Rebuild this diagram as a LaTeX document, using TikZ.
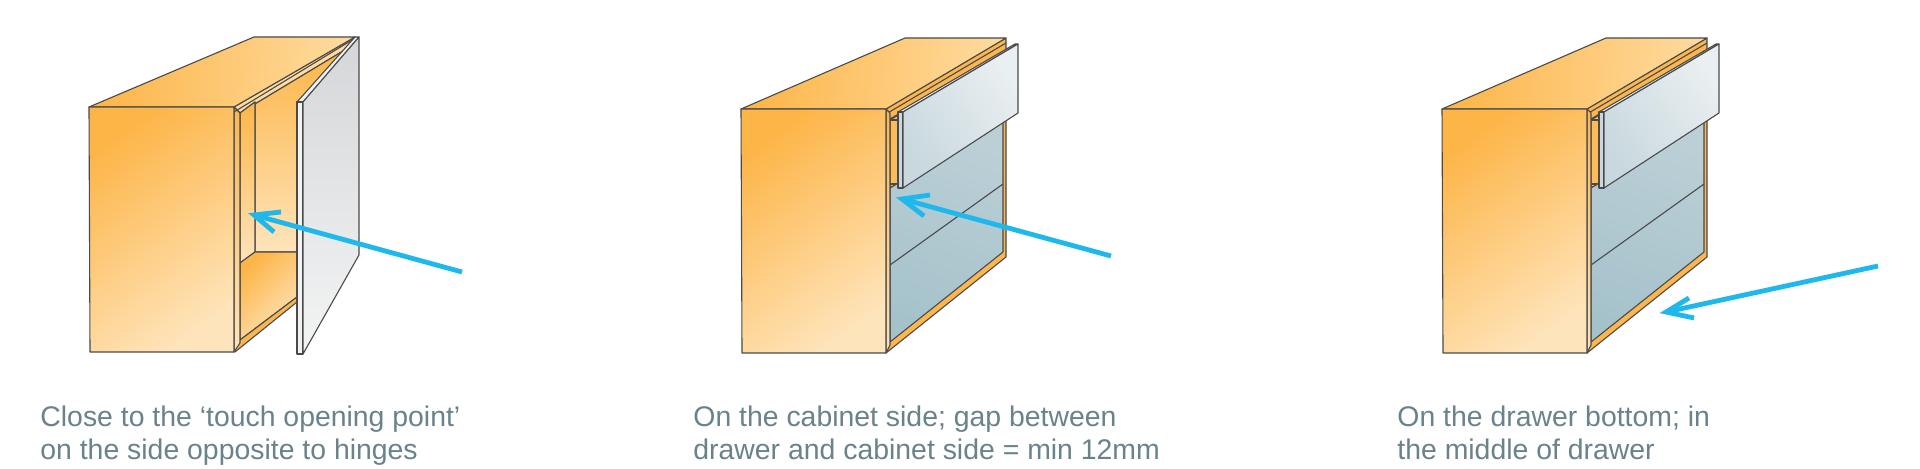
\documentclass[tikz,border=0pt]{standalone}
\usepackage{fontspec}
\setmainfont{Liberation Sans}
\definecolor{edge}{HTML}{4A4A4A}
\definecolor{orA}{HTML}{FDB548}
\definecolor{orB}{HTML}{FEE4BA}
\definecolor{orC}{HTML}{FEDB9F}
\definecolor{strip}{HTML}{FBB650}
\definecolor{grA}{HTML}{D5D6D9}
\definecolor{grB}{HTML}{F3F4F4}
\definecolor{dfA}{HTML}{EAEFF1}
\definecolor{dfB}{HTML}{C8D8DE}
\definecolor{blA}{HTML}{BCCFD6}
\definecolor{blB}{HTML}{A5C2CB}
\definecolor{pointer}{HTML}{1FB8EC}
\definecolor{capt}{HTML}{6A828B}
\tikzset{
  ln/.style={draw=edge,line width=0.55pt,line join=round},
  frontface/.style={ln,top color=orA,bottom color=orB,shading angle=36},
  topface/.style={ln,top color=orA,bottom color=orC,shading angle=85},
  backwall/.style={ln,top color=orA,bottom color=orB},
  floorface/.style={ln,top color=orA,bottom color=orB,shading angle=45},
  stripface/.style={ln,fill=strip},
  pale/.style={ln,fill=orC},
  lightstrip/.style={ln,top color=strip,bottom color=orB},
  doorface/.style={ln,top color=grA,bottom color=grB},
  doorthin/.style={ln,fill=grB!92!grA},
  drawerface/.style={ln,top color=dfB,bottom color=dfA,shading angle=125},
  panelface/.style={ln,top color=blB,bottom color=blA,shading angle=160},
  pointerline/.style={draw=pointer,line width=2.4pt,line cap=butt,line join=miter},
  caption/.style={anchor=north west,inner sep=0pt,align=left,text=capt,font=\fontsize{14.2}{16.5}\selectfont}
}
\newcommand{\drawercab}{%
  % carcass edge seen through the opening
  \filldraw[stripface] (886,109) -- (1006,38) -- (1006,257) -- (886,353) -- cycle;
  \filldraw[ln,fill=orA!85!orB] (890,120) -- (1003,53) -- (1003,122) -- (890,188) -- cycle;
  \draw[ln] (890,120) -- (898,120) (890,184) -- (898,184);
  \shade[panelface] (890,188) -- (1003,122) -- (1003,252) -- (890,342) -- cycle;
  \draw[ln] (890,265) -- (1003,184);
  % cabinet outer
  \shade[topface] (741,109) -- (905,38) -- (1006,38) -- (886,109) -- cycle;
  \draw[ln] (886,114) -- (1006,43);
  \draw[ln] (890,119) -- (1003,52);
  \shade[lightstrip] (886,109) -- (890,113) -- (890,345) -- (886,353) -- cycle;
  \shade[frontface] (741,109) -- (886,109) -- (886,353) -- (742,353) -- cycle;
  % drawer front
  \filldraw[ln,fill=grB] (898,112) -- (903,112) -- (1018,44) -- (1015,44) -- cycle;
  \filldraw[ln,fill=dfB] (898,112) -- (903,112) -- (903,188) -- (898,188) -- cycle;
  \shade[drawerface] (903,112) -- (1018,44) -- (1018,113) -- (903,188) -- cycle;
}
\begin{document}
\begin{tikzpicture}[x=0.5pt,y=-0.5pt]
\path[use as bounding box,fill=white] (0,0) rectangle (1920,469);
% --- cabinet with door ---
\filldraw[pale] (234,107) -- (355,37) -- (348,48) -- (240,113) -- cycle;
\shade[backwall] (240,113) -- (348,48) -- (303,97) -- (297,102) -- (297,252) -- (255,252) -- (255,102) -- cycle;
\shade[backwall] (240,113) -- (255,102) -- (255,252) -- (240,263) -- cycle;
\shade[floorface] (240,263) -- (255,252) -- (297,252) -- (297,297) -- (240,340) -- cycle;
\filldraw[stripface] (234,343) -- (240,340) -- (297,297) -- (297,302) -- (235,352) -- cycle;
\shade[lightstrip] (234,107) -- (240,113) -- (240,343) -- (234,352) -- cycle;
\shade[topface] (89,107) -- (254,37) -- (355,37) -- (234,107) -- cycle;
\draw[ln] (234,112) -- (352,40);
\shade[frontface] (89,107) -- (234,107) -- (234,352) -- (90,352) -- cycle;
\filldraw[doorthin] (297,102) -- (303,102) -- (359,37) -- (355,37) -- cycle;
\filldraw[doorthin] (297,102) -- (303,102) -- (303,354) -- (297,354) -- cycle;
\shade[doorface] (303,102) -- (359,37) -- (359,255) -- (303,354) -- cycle;
\coordinate (a1s) at (462,272);
\coordinate (a1t) at (254,215);
\coordinate (a1u) at (281,212);
\coordinate (a1v) at (274,232);
\draw[pointerline] (a1s) -- (a1t);
\draw[pointerline] (a1u) -- (a1t) -- (a1v);
% --- drawers ---
\drawercab
\begin{scope}[shift={(701,0)}]
\drawercab
\end{scope}
\coordinate (a2s) at (1111,256);
\coordinate (a2t) at (902,199);
\coordinate (a2u) at (930,195);
\coordinate (a2v) at (924,216);
\draw[pointerline] (a2s) -- (a2t);
\draw[pointerline] (a2u) -- (a2t) -- (a2v);
\coordinate (a3s) at (1878,266);
\coordinate (a3t) at (1666,312);
\coordinate (a3u) at (1689,298);
\coordinate (a3v) at (1694,318);
\draw[pointerline] (a3s) -- (a3t);
\draw[pointerline] (a3u) -- (a3t) -- (a3v);
% --- captions ---
\node[caption] (c1) at (40,406) {Close to the ‘touch opening point’\\on the side opposite to hinges};
\node[caption] (c2) at (693,406) {On the cabinet side; gap between\\drawer and cabinet side = min 12mm};
\node[caption] (c3) at (1397,406) {On the drawer bottom; in\\the middle of drawer};
\end{tikzpicture}
\end{document}
